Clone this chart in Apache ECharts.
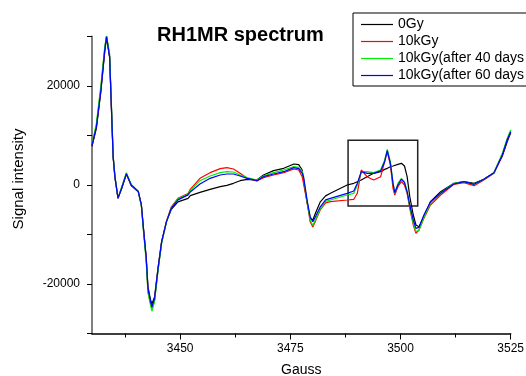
<!DOCTYPE html>
<html><head><meta charset="utf-8">
<script src="https://cdn.jsdelivr.net/npm/echarts@6/dist/echarts.min.js"></script>
<style>html,body{margin:0;padding:0;background:#fff}#c{width:526px;height:376px}</style>
</head><body><div id="c"></div>
<script>
const gauss = [3430, 3431, 3432, 3432.9, 3433.3, 3434, 3434.4, 3434.8, 3435.2, 3435.9, 3436.7, 3437.8, 3438.9, 3440.5, 3441.2, 3441.6, 3442.3, 3442.7, 3443.3, 3443.6, 3444.2, 3445, 3445.8, 3446.9, 3448, 3449.5, 3451.8,
  3452.3, 3454.5, 3456.8, 3459.1, 3460.6, 3462.1, 3463.6, 3465.2, 3467.4, 3468.9, 3471.2, 3473.5, 3475.8, 3476.9, 3477.7,
  3478.0, 3478.8, 3479.5, 3480.1, 3480.7, 3481.8, 3483.0,
  3484.1, 3487.9, 3489.4, 3490.2, 3491.1, 3492.4, 3493.9, 3495.5, 3496.4, 3497.0, 3497.7, 3498.3, 3498.7, 3499.4, 3500.2, 3500.9, 3501.5, 3502.1, 3502.9, 3503.5, 3504.2, 3505.3, 3506.8, 3509.1, 3512.1, 3514.4, 3516.7, 3518.9, 3521.2, 3523.1, 3524.2, 3525];

const gy0 = [7800, 11500, 18800, 27000, 29800, 25800, 15500, 5500, 1500, -2600, -800, 2200, -100, -1400, -4000, -8000, -14600, -20600, -23300, -24000, -22600, -16600, -11400, -7400, -4900, -3400, -2700,
  -2150, -1480, -870, -340, -70, 340, 870, 1150, 1010, 2020, 2900, 3370, 4240, 4100, 3030,
  1000, -3500, -6700, -7070, -5700, -3400, -2200,
  -1680, 0, 340, 670, 1010, 1680, 2360, 2690, 3160, 3370, 3700, 3840, 4040, 4180, 4380, 3840, 1680, -2360, -6060, -8080, -8420, -6400, -3370, -1350, 340, 670, 340, 1150, 2490, 5860, 8750, 10570];

const kgy10 = [8000, 12000, 19500, 27600, 30000, 26000, 16000, 5800, 1700, -2700, -600, 2300, 0, -1300, -4100, -8300, -15000, -21500, -24000, -25200, -23200, -17000, -11600, -7300, -4400, -2700, -1700,
  -870, 1350, 2490, 3300, 3500, 3230, 2360, 1350, 810, 1480, 2020, 2490, 3230, 3030, 1680,
  1300, -3500, -7400, -8500, -7300, -5000, -3600,
  -3370, -3030, -2890, -1680, 3030, 1680, 1010, 1680, 4710, 6730, 4040, -670, -2020, -340, 670, 0, -1680, -4710, -8080, -9760, -9090, -6730, -4040, -2020, 140, 470, -140, 1010, 2360, 6060, 9090, 10770];

const kgy10d40 = [8200, 12500, 20000, 28000, 30200, 26500, 16500, 6000, 1800, -2600, -500, 2500, 100, -1300, -4200, -8500, -15500, -21800, -24300, -25500, -23500, -17200, -11800, -7500, -4600, -2800, -1900,
  -1150, 870, 1820, 2490, 2690, 2630, 2020, 1480, 1010, 1820, 2490, 3030, 3700, 3570, 2690,
  1500, -3300, -7000, -8200, -7000, -4800, -3300,
  -3030, -2020, -1680, 0, 2690, 2690, 2490, 3030, 5050, 7200, 4710, 340, -1680, 340, 1350, 670, -1350, -4380, -7740, -9430, -9090, -6530, -3700, -1680, 340, 670, 140, 1150, 2490, 6400, 9430, 11110];

const kgy10d60 = [8000, 11800, 19000, 27300, 30000, 25900, 15800, 5700, 1700, -2700, -700, 2300, 0, -1300, -4000, -8100, -14800, -20900, -23600, -24600, -22900, -16800, -11500, -7400, -4700, -3000, -2000,
  -1410, 200, 1350, 2020, 2220, 2220, 1820, 1350, 870, 1680, 2220, 2690, 3500, 3300, 2360,
  1680, -3030, -6400, -7400, -6400, -4400, -3000,
  -2690, -1680, -1210, 340, 2690, 2360, 2360, 2890, 4710, 6930, 4380, 340, -1550, 0, 1150, 470, -1350, -4040, -7070, -8750, -8550, -6060, -3370, -1680, 200, 670, 140, 1150, 2490, 6060, 9090, 10770];

const seriesNames = ['0Gy', '10kGy', '10kGy(after 40 days', '10kGy(after 60 days'];
const seriesColors = ['#000000', '#ff0000', '#00ee00', '#0000ff'];
const seriesValues = [gy0, kgy10, kgy10d40, kgy10d60];

const xMajorTicks = [3450, 3475, 3500, 3525];
const xMinorTicks = [3437.5, 3462.5, 3487.5, 3512.5];
const yLabelValues = [-20000, 0, 20000];
const boxCorners = [[3488.1, 9030], [3503.9, -4240]];

const FONT = 'Liberation Sans, Arial, sans-serif';
const chart = echarts.init(document.getElementById('c'), null, {renderer: 'canvas'});

const series = seriesValues.map((vals, i) => ({
  name: seriesNames[i],
  type: 'line',
  xAxisIndex: 0,
  yAxisIndex: 0,
  data: gauss.map((g, j) => [g, vals[j]]),
  showSymbol: false,
  symbol: 'none',
  lineStyle: {color: seriesColors[i], width: 1.2},
  itemStyle: {color: seriesColors[i]},
  animation: false,
  z: 2 + i
}));
series[3].markArea = {
  silent: true,
  itemStyle: {color: 'rgba(0,0,0,0)', borderColor: '#222', borderWidth: 1.5},
  data: [[{coord: boxCorners[0]}, {coord: boxCorners[1]}]]
};

chart.setOption({
  backgroundColor: '#fff',
  animation: false,
  title: {
    text: 'RH1MR spectrum', left: 157, top: 25, padding: 0,
    textStyle: {fontFamily: FONT, fontSize: 20, fontWeight: 'bold', color: '#000'}
  },
  legend: {
    orient: 'vertical', left: 353, top: 13,
    padding: [4, 40, 3, 8], itemGap: 2,
    borderColor: '#000', borderWidth: 1,
    icon: 'rect', itemWidth: 32, itemHeight: 1.2,
    textStyle: {fontFamily: FONT, fontSize: 14, color: '#000', lineHeight: 15},
    data: seriesNames.map((n, i) => ({name: n, itemStyle: {color: seriesColors[i]}}))
  },
  grid: {left: 92, right: 15.3, top: 36.5, bottom: 42.5, containLabel: false, outerBoundsMode: 'none'},
  xAxis: [{
    type: 'value', min: 3430, max: 3525,
    name: 'Gauss', nameLocation: 'middle', nameGap: 30,
    nameTextStyle: {fontFamily: FONT, fontSize: 14, color: '#000'},
    axisLine: {show: true, onZero: false, lineStyle: {color: '#000', width: 1.5}},
    axisTick: {show: true, customValues: xMajorTicks, length: 6, lineStyle: {color: '#000', width: 1}},
    axisLabel: {customValues: xMajorTicks, margin: 9, fontFamily: FONT, fontSize: 12, color: '#000',
      formatter: v => String(v)},
    splitLine: {show: false}
  }, {
    type: 'value', min: 3430, max: 3525, position: 'bottom', gridIndex: 0,
    axisLine: {show: false, onZero: false},
    axisTick: {show: true, customValues: xMinorTicks, length: 4, lineStyle: {color: '#000', width: 1}},
    axisLabel: {show: false},
    splitLine: {show: false}
  }],
  yAxis: {
    type: 'value', min: -30000, max: 30000, interval: 10000,
    name: 'Signal intensity', nameLocation: 'middle', nameGap: 66,
    nameTextStyle: {fontFamily: FONT, fontSize: 15, color: '#000', padding: [0, 0, 0, 12]},
    axisLine: {show: true, onZero: false, lineStyle: {color: '#808080', width: 2}},
    axisTick: {show: true, length: 5, lineStyle: {color: '#000', width: 1}},
    axisLabel: {
      margin: 12, fontFamily: FONT, fontSize: 12, color: '#000',
      formatter: v => yLabelValues.indexOf(v) >= 0 ? String(v) : ''
    },
    splitLine: {show: false}
  },
  series: series
});
</script>
</body></html>
